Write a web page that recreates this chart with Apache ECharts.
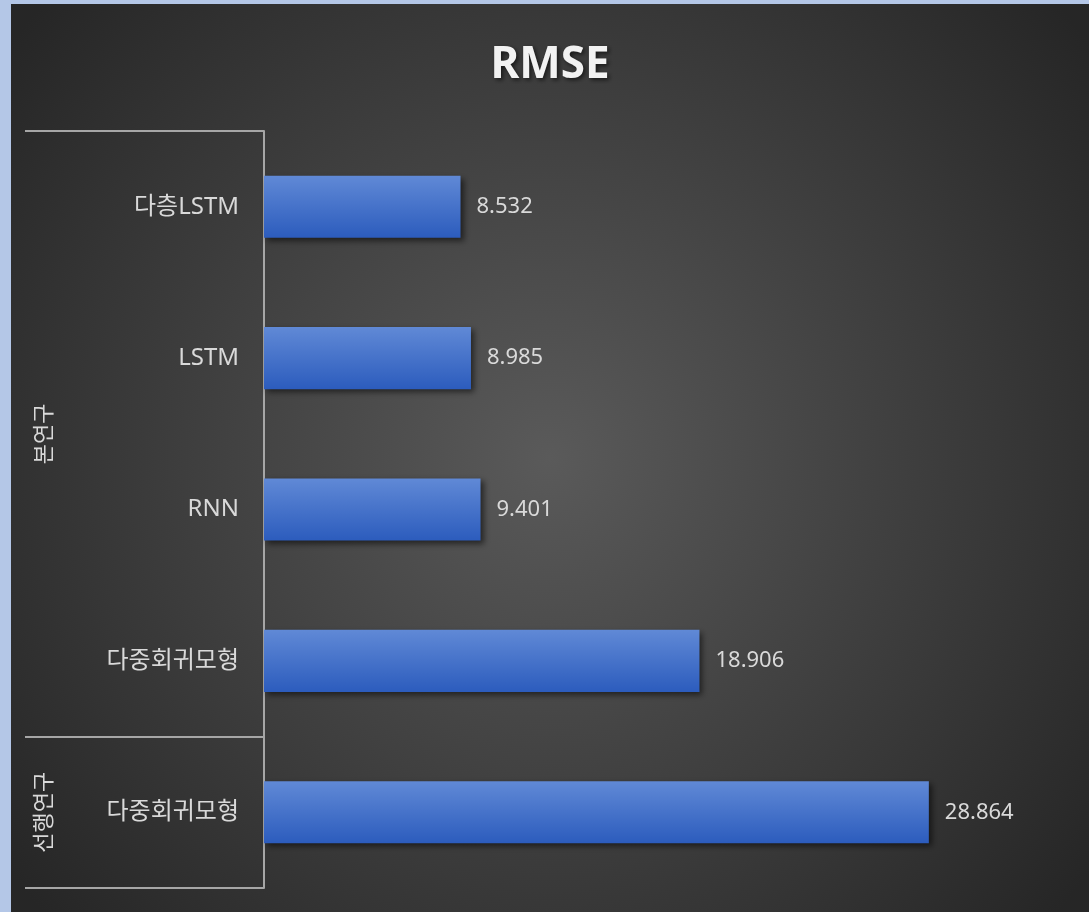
<!DOCTYPE html>
<html>
<head>
<meta charset="utf-8">
<title>RMSE</title>
<script src="https://cdn.jsdelivr.net/npm/echarts@6/dist/echarts.min.js"></script>
<style>
  html, body { margin: 0; padding: 0; background: #b4c7e7; }
  #chart { position: absolute; left: 11px; top: 4px; width: 1078px; height: 908px; }
</style>
</head>
<body>
<div id="chart"></div>
<script>
const categories = ['다층LSTM', 'LSTM', 'RNN', '다중회귀모형', '다중회귀모형']
const rmseValues = [8.532, 8.985, 9.401, 18.906, 28.864]
// 그룹: 시작/끝 카테고리 인덱스
const groupNames = ['본연구', '선행연구']
const groupStart = [0, 4]
const groupEnd = [3, 4]

const FONT = '"Noto Sans", "Noto Sans CJK KR", sans-serif'
const chart = echarts.init(document.getElementById('chart'))

const option = {
  backgroundColor: new echarts.graphic.RadialGradient(0.5, 0.5, 0.75, [
    { offset: 0, color: '#5a5a5a' },
    { offset: 1, color: '#262626' }
  ]),
  title: {
    text: 'RMSE',
    left: 'center',
    top: 34,
    textStyle: {
      color: '#f2f2f2',
      fontSize: 44,
      fontWeight: 'bold',
      fontFamily: FONT,
      textShadowColor: 'rgba(0,0,0,0.6)',
      textShadowBlur: 4,
      textShadowOffsetX: 2,
      textShadowOffsetY: 2
    }
  },
  grid: {
    left: 253,
    right: 134,
    top: 127,
    bottom: 24
  },
  xAxis: {
    type: 'value',
    min: 0,
    max: 30,
    show: false
  },
  yAxis: {
    type: 'category',
    inverse: true,
    data: categories,
    axisLine: { show: true, lineStyle: { color: '#a6a6a6', width: 2 } },
    axisTick: { show: false },
    axisLabel: {
      color: '#d9d9d9',
      fontSize: 24,
      margin: 25,
      fontFamily: FONT
    }
  },
  series: [
    {
      type: 'bar',
      data: rmseValues,
      barWidth: '41%',
      itemStyle: {
        color: new echarts.graphic.LinearGradient(0, 0, 0, 1, [
          { offset: 0, color: '#6089d6' },
          { offset: 1, color: '#2c5cbd' }
        ]),
        shadowColor: 'rgba(0,0,0,0.55)',
        shadowBlur: 6,
        shadowOffsetX: 3,
        shadowOffsetY: 3
      },
      label: {
        show: true,
        position: 'right',
        distance: 16,
        color: '#d9d9d9',
        fontSize: 22,
        fontFamily: FONT,
        formatter: p => p.value.toFixed(3)
      }
    }
  ]
}

chart.setOption(option)

// 그룹 괄호선과 그룹 이름
function drawGroups() {
  const c0 = chart.convertToPixel({ yAxisIndex: 0 }, 0)
  const c1 = chart.convertToPixel({ yAxisIndex: 0 }, 1)
  const band = c1 - c0
  const axisX = chart.convertToPixel({ xAxisIndex: 0 }, 0)
  const lineStyle = { stroke: '#a6a6a6', lineWidth: 2 }
  const elements = []
  const edges = new Set()
  groupNames.forEach((name, i) => {
    const top = chart.convertToPixel({ yAxisIndex: 0 }, groupStart[i]) - band / 2
    const bottom = chart.convertToPixel({ yAxisIndex: 0 }, groupEnd[i]) + band / 2
    edges.add(Math.round(top))
    edges.add(Math.round(bottom))
    elements.push({
      type: 'text',
      x: 34,
      y: (top + bottom) / 2,
      rotation: Math.PI / 2,
      style: {
        text: name,
        fill: '#d9d9d9',
        fontSize: 22,
        fontFamily: FONT,
        align: 'center',
        verticalAlign: 'middle'
      }
    })
  })
  edges.forEach(y => {
    elements.push({
      type: 'line',
      shape: { x1: 14, y1: y, x2: axisX, y2: y },
      style: lineStyle
    })
  })
  chart.setOption({ graphic: { elements } })
}

drawGroups()
</script>
</body>
</html>
